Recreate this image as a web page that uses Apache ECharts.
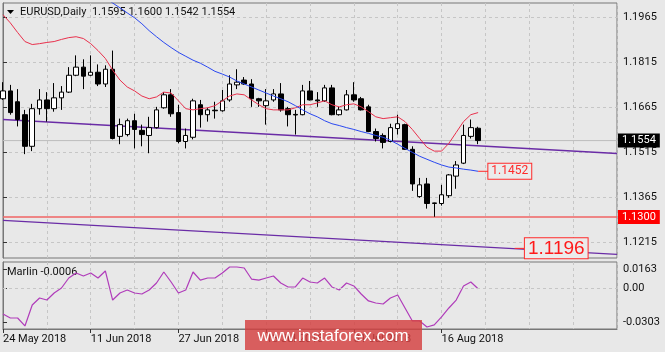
<!DOCTYPE html>
<html><head><meta charset="utf-8">
<script src="https://cdn.jsdelivr.net/npm/echarts@6/dist/echarts.min.js"></script>
<style>html,body{margin:0;padding:0;background:#e8e8e8;}#c{width:665px;height:352px;}</style>
</head><body><div id="c"></div>
<script>
// ---- data ----
const symbolTitle = 'EURUSD,Daily';
const xTickIndex = [0, 12, 24, 36, 48, 60];
const xTickLabels = ['24 May 2018', '11 Jun 2018', '27 Jun 2018', '13 Jul 2018', '31 Jul 2018', '16 Aug 2018'];
const priceTicks = [1.1965, 1.1815, 1.1665, 1.1515, 1.1365, 1.1215];
const marlinTicks = [0.0163, 0, -0.0303];

const opens = [1.1693,1.1719,1.1683,1.1640,1.1535,1.1660,1.1689,1.1660,1.1696,1.1715,
 1.1771,1.1798,1.1771,1.1781,1.1742,1.1791,1.1568,1.1574,1.1620,1.1588,
 1.1571,1.1597,1.1663,1.1706,1.1647,1.1551,1.1565,1.1673,1.1640,1.1655,
 1.1653,1.1689,1.1739,1.1755,1.1742,1.1693,1.1670,1.1689,1.1709,1.1660,
 1.1641,1.1640,1.1719,1.1689,1.1686,1.1729,1.1640,1.1656,1.1706,1.1693,
 1.1666,1.1584,1.1571,1.1551,1.1594,1.1607,1.1525,1.1368,1.1410,1.1345,
 1.1345,1.1371,1.1436,1.1479,1.1568,1.1595];
const closes = [1.1719,1.1647,1.1624,1.1535,1.1660,1.1689,1.1660,1.1696,1.1715,1.1771,
 1.1798,1.1768,1.1781,1.1742,1.1791,1.1561,1.1607,1.1620,1.1591,1.1574,
 1.1597,1.1656,1.1706,1.1643,1.1551,1.1571,1.1686,1.1640,1.1656,1.1653,
 1.1686,1.1742,1.1748,1.1742,1.1693,1.1686,1.1686,1.1709,1.1656,1.1640,
 1.1639,1.1719,1.1689,1.1686,1.1729,1.1640,1.1656,1.1706,1.1689,1.1656,
 1.1584,1.1561,1.1548,1.1597,1.1610,1.1525,1.1410,1.1407,1.1345,1.1347,
 1.1374,1.1440,1.1473,1.1571,1.1597,1.1554];
const lows = [1.1689,1.1640,1.1601,1.1509,1.1519,1.1640,1.1617,1.1650,1.1656,1.1712,
 1.1768,1.1725,1.1768,1.1735,1.1732,1.1558,1.1542,1.1568,1.1528,1.1535,
 1.1512,1.1594,1.1660,1.1633,1.1545,1.1528,1.1558,1.1597,1.1617,1.1627,
 1.1650,1.1683,1.1725,1.1739,1.1666,1.1666,1.1607,1.1683,1.1650,1.1601,
 1.1574,1.1638,1.1687,1.1666,1.1683,1.1638,1.1637,1.1654,1.1683,1.1654,
 1.1582,1.1551,1.1528,1.1548,1.1574,1.1523,1.1387,1.1364,1.1328,1.1301,
 1.1338,1.1364,1.1394,1.1476,1.1561,1.1542];
const highs = [1.1748,1.1739,1.1725,1.1656,1.1676,1.1725,1.1715,1.1745,1.1735,1.1798,
 1.1837,1.1824,1.1837,1.1807,1.1804,1.1853,1.1627,1.1627,1.1643,1.1607,
 1.1633,1.1666,1.1715,1.1725,1.1673,1.1594,1.1693,1.1689,1.1663,1.1683,
 1.1722,1.1771,1.1791,1.1765,1.1758,1.1696,1.1725,1.1725,1.1745,1.1666,
 1.1656,1.1739,1.1752,1.1715,1.1739,1.1739,1.1666,1.1722,1.1748,1.1699,
 1.1673,1.1594,1.1578,1.1610,1.1640,1.1610,1.1535,1.1430,1.1430,1.1348,
 1.1407,1.1443,1.1486,1.1607,1.1624,1.1600];

const redMA = [1.1972,1.1945,1.1913,1.1883,1.1873,1.1876,1.1880,1.1883,1.1890,1.1896,
 1.1899,1.1893,1.1876,1.1853,1.1827,1.1788,1.1755,1.1732,1.1719,1.1702,
 1.1693,1.1699,1.1715,1.1712,1.1686,1.1660,1.1656,1.1660,1.1663,1.1670,
 1.1686,1.1702,1.1709,1.1706,1.1689,1.1673,1.1660,1.1656,1.1656,1.1656,
 1.1663,1.1673,1.1673,1.1679,1.1686,1.1673,1.1666,1.1673,1.1676,1.1666,
 1.1650,1.1633,1.1627,1.1630,1.1633,1.1617,1.1591,1.1561,1.1532,1.1519,
 1.1519,1.1545,1.1581,1.1617,1.1640,1.1647];
const blueStart = 13;
const blueMA = [1.2044,1.2027,1.2011,1.1995,1.1978,1.1962,1.1942,1.1919,1.1899,1.1880,
 1.1863,1.1847,1.1834,1.1821,1.1811,1.1798,1.1784,1.1775,1.1765,1.1752,
 1.1742,1.1732,1.1722,1.1712,1.1702,1.1693,1.1683,1.1670,1.1656,1.1643,
 1.1633,1.1620,1.1610,1.1604,1.1597,1.1591,1.1584,1.1578,1.1571,1.1565,
 1.1555,1.1542,1.1528,1.1515,1.1502,1.1492,1.1482,1.1473,1.1466,1.1463,
 1.1459,1.1456,1.1452];
const marlin = [-0.0229,-0.0264,-0.0264,-0.0334,-0.0150,-0.0088,-0.0106,-0.0044,0.0000,0.0088,
 0.0132,0.0106,0.0132,0.0088,0.0150,-0.0106,-0.0044,-0.0018,-0.0044,-0.0053,
 -0.0018,0.0044,0.0141,0.0053,-0.0044,-0.0018,0.0141,0.0070,0.0088,0.0088,
 0.0132,0.0185,0.0185,0.0176,0.0079,0.0070,0.0088,0.0106,0.0044,0.0009,
 0.0009,0.0088,0.0053,0.0044,0.0088,0.0009,-0.0018,0.0044,0.0018,-0.0053,
 -0.0114,-0.0132,-0.0141,-0.0088,-0.0062,-0.0176,-0.0290,-0.0290,-0.0343,-0.0325,
 -0.0255,-0.0176,-0.0106,0.0018,0.0053,-0.0006];

const trendUpper = [[0, 1.1624], [84, 1.1511]];
const trendLower = [[0, 1.1289], [84, 1.1176]];
const supportLevel = 1.1300;
const targetLevel = 1.1196;
const targetMarker = [[70.0, targetLevel], [71.4, targetLevel]];
const xMax = 84;

// ---- chart ----
const FONT = 'Roboto';
const last = opens.length - 1;
const bid = closes[last];
const maEnd = blueMA[blueMA.length - 1];
const gridC = '#c6c6c6';
const frameC = '#777777';

const candleData = opens.map((o, i) => [i, o, closes[i], lows[i], highs[i]]);
const redData = redMA.map((v, i) => [i, v]);
const blueData = blueMA.map((v, k) => [blueStart + k, v]);
const marlinData = marlin.map((v, i) => [i, v]);

const labelFor = v => { const k = xTickIndex.indexOf(Math.round(v)); return k >= 0 ? xTickLabels[k] : ''; };

const chart = echarts.init(document.getElementById('c'));
chart.setOption({
  animation: false,
  backgroundColor: '#e8e8e8',
  textStyle: { fontFamily: FONT },
  grid: [
    { left: 3, right: 48, top: 3, height: 255, show: true, borderColor: frameC, borderWidth: 1 },
    { left: 3, right: 48, top: 262, height: 67, show: true, borderColor: frameC, borderWidth: 1 }
  ],
  xAxis: [
    { type: 'value', gridIndex: 0, min: 0, max: xMax, interval: 6,
      axisLine: { show: false }, axisTick: { show: false }, axisLabel: { show: false },
      splitLine: { show: true, lineStyle: { color: gridC, type: [3, 3] } } },
    { type: 'value', gridIndex: 1, min: 0, max: xMax, interval: 6,
      axisLine: { show: false }, axisTick: { show: false }, axisLabel: { show: false },
      splitLine: { show: true, lineStyle: { color: gridC, type: [3, 3] } } },
    { type: 'value', gridIndex: 1, min: 0, max: xMax, position: 'bottom',
      axisLine: { show: true, lineStyle: { color: frameC } },
      axisTick: { show: true, customValues: xTickIndex, length: 4, lineStyle: { color: '#333' } },
      axisLabel: { customValues: xTickIndex, formatter: labelFor, align: 'left', color: '#111', fontSize: 11, margin: 5, fontFamily: FONT },
      splitLine: { show: false } }
  ],
  yAxis: [
    { type: 'value', gridIndex: 0, position: 'right', min: 1.1164, max: 1.2011,
      axisLine: { show: true, lineStyle: { color: frameC } },
      axisTick: { show: true, customValues: priceTicks, length: 4, lineStyle: { color: '#333' } },
      axisLabel: { customValues: priceTicks, formatter: v => v.toFixed(4), color: '#111', fontSize: 11, margin: 6, fontFamily: FONT },
      splitLine: { show: true, lineStyle: { color: gridC, type: [3, 3] } } },
    { type: 'value', gridIndex: 1, position: 'right', min: -0.0361, max: 0.0229,
      axisLine: { show: true, lineStyle: { color: frameC } },
      axisTick: { show: true, customValues: marlinTicks, length: 4, lineStyle: { color: '#333' } },
      axisLabel: { customValues: marlinTicks, formatter: v => (v === 0 ? '0.00' : v.toFixed(4)), color: '#111', fontSize: 11, margin: 6, fontFamily: FONT },
      splitLine: { show: false } }
  ],
  series: [
    { type: 'line', xAxisIndex: 0, yAxisIndex: 0, data: [[0, bid], [xMax, bid]], symbol: 'none', silent: true,
      lineStyle: { color: '#bdbdbd', width: 1 }, z: 1,
      endLabel: { show: true, formatter: bid.toFixed(4), color: '#fff', backgroundColor: '#000', padding: [2, 4, 1, 4], distance: 1, fontSize: 11, fontFamily: FONT } },
    { type: 'line', xAxisIndex: 0, yAxisIndex: 0, data: [[0, supportLevel], [xMax, supportLevel]], symbol: 'none', silent: true,
      lineStyle: { color: '#f06464', width: 1.5 }, z: 2,
      endLabel: { show: true, formatter: supportLevel.toFixed(4), color: '#fff', backgroundColor: '#ff0000', padding: [2, 4, 1, 4], distance: 1, fontSize: 11, fontFamily: FONT } },
    { type: 'line', xAxisIndex: 0, yAxisIndex: 0, data: trendUpper, symbol: 'none', silent: true,
      lineStyle: { color: '#6a2ca6', width: 1.4 }, z: 2 },
    { type: 'line', xAxisIndex: 0, yAxisIndex: 0, data: trendLower, symbol: 'none', silent: true,
      lineStyle: { color: '#6a2ca6', width: 1.4 }, z: 2 },
    { type: 'candlestick', xAxisIndex: 0, yAxisIndex: 0, data: candleData,
      encode: { x: 0, y: [1, 2, 3, 4] }, barWidth: 5, z: 3,
      itemStyle: { color: '#ffffff', color0: '#000000', borderColor: '#000000', borderColor0: '#000000', borderWidth: 1 } },
    { type: 'line', xAxisIndex: 0, yAxisIndex: 0, data: redData, symbol: 'none', silent: true,
      lineStyle: { color: '#e8304c', width: 1 }, z: 4 },
    { type: 'line', xAxisIndex: 0, yAxisIndex: 0, data: blueData, symbol: 'none', silent: true,
      lineStyle: { color: '#2a48f0', width: 1 }, z: 4 },
    { type: 'line', xAxisIndex: 0, yAxisIndex: 0, data: [[65, maEnd], [66.4, maEnd]], symbol: 'none', silent: true,
      lineStyle: { color: '#ff2a2a', width: 1 }, z: 5,
      endLabel: { show: true, formatter: maEnd.toFixed(4), color: '#ff2a2a', borderColor: '#ff2a2a', borderWidth: 1,
        backgroundColor: '#ebebeb', padding: [2, 3, 1, 3], distance: 0, fontSize: 12, fontFamily: FONT } },
    { type: 'line', xAxisIndex: 0, yAxisIndex: 0, data: targetMarker, symbol: 'none', silent: true,
      lineStyle: { color: '#ff2a2a', width: 1 }, z: 5,
      endLabel: { show: true, formatter: targetLevel.toFixed(4), color: '#ff1a1a', borderColor: '#ff2a2a', borderWidth: 1,
        backgroundColor: '#ebebeb', padding: [1, 3, 0, 3], distance: 0, fontSize: 19, fontFamily: 'Liberation Sans' } },
    { type: 'line', xAxisIndex: 1, yAxisIndex: 1, data: marlinData, symbol: 'none', silent: true,
      lineStyle: { color: '#b03cba', width: 1.2 }, z: 4,
      markLine: { silent: true, symbol: 'none', label: { show: false },
        lineStyle: { color: gridC, type: [3, 3], width: 1 }, data: [{ yAxis: 0 }] } }
  ],
  graphic: [
    { type: 'polygon', shape: { points: [[7, 10], [14, 10], [10.5, 14]] }, style: { fill: '#000' } },
    { type: 'text', x: 20, y: 12, style: { text: symbolTitle + '  ' + [opens[last], highs[last], lows[last], closes[last]].map(v => v.toFixed(4)).join(' '),
      fill: '#111', font: '11px ' + FONT, verticalAlign: 'middle' } },
    { type: 'text', x: 7, y: 272, style: { text: 'Marlin ' + marlin[last].toFixed(4), fill: '#111', font: '11px ' + FONT, verticalAlign: 'middle' } },
    { type: 'rect', z: 100, shape: { x: 245, y: 320, width: 177, height: 30 }, style: { fill: 'rgba(212,64,64,0.82)' } },
    { type: 'text', z: 101, x: 333, y: 336, style: { text: 'www.instaforex.com', fill: '#ffffff', font: '17px "Liberation Sans"', align: 'center', verticalAlign: 'middle' } }
  ]
});
</script></body></html>
